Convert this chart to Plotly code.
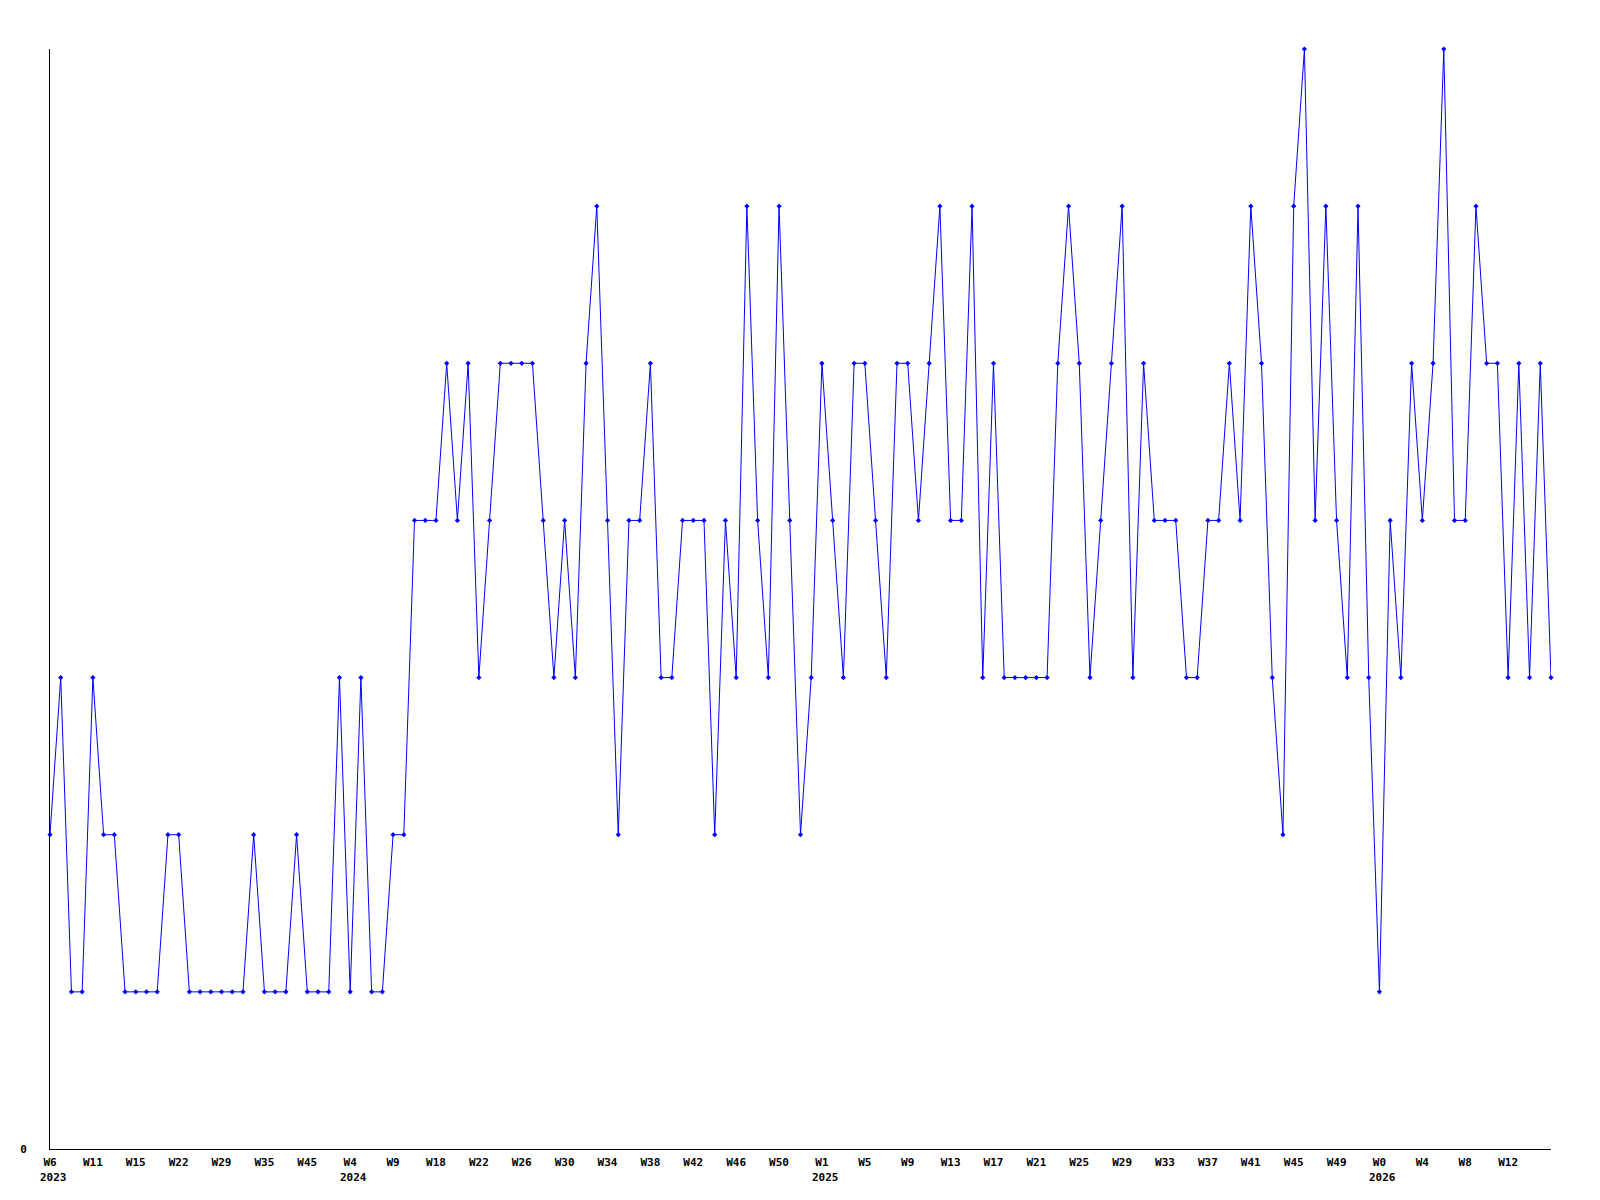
import plotly.graph_objects as go

values = [2, 3, 1, 1, 3, 2, 2, 1, 1, 1, 1, 2, 2, 1, 1, 1, 1, 1, 1, 2,
          1, 1, 1, 2, 1, 1, 1, 3, 1, 3, 1, 1, 2, 2, 4, 4, 4, 5, 4, 5,
          3, 4, 5, 5, 5, 5, 4, 3, 4, 3, 5, 6, 4, 2, 4, 4, 5, 3, 3, 4,
          4, 4, 2, 4, 3, 6, 4, 3, 6, 4, 2, 3, 5, 4, 3, 5, 5, 4, 3, 5,
          5, 4, 5, 6, 4, 4, 6, 3, 5, 3, 3, 3, 3, 3, 5, 6, 5, 3, 4, 5,
          6, 3, 5, 4, 4, 4, 3, 3, 4, 4, 5, 4, 6, 5, 3, 2, 6, 7, 4, 6,
          4, 3, 6, 3, 1, 4, 3, 5, 4, 5, 7, 4, 4, 6, 5, 5, 3, 5, 3, 5,
          3]

tick_labels = ["W6", "W11", "W15", "W22", "W29", "W35", "W45", "W4", "W9",
               "W18", "W22", "W26", "W30", "W34", "W38", "W42", "W46", "W50",
               "W1", "W5", "W9", "W13", "W17", "W21", "W25", "W29", "W33",
               "W37", "W41", "W45", "W49", "W0", "W4", "W8", "W12"]
tick_step = 4

year_labels = ["2023", "2024", "2025", "2026"]
year_tick_index = [0, 7, 18, 31]  # index into tick_labels

x = list(range(len(values)))
tickvals = [i * tick_step for i in range(len(tick_labels))]

font_family = "DejaVu Sans Mono"

fig = go.Figure()
fig.add_trace(go.Scatter(
    x=x, y=values, mode="lines+markers",
    line=dict(color="#0000FF", width=1),
    marker=dict(symbol="diamond", size=4, color="#0000FF"),
    cliponaxis=False, hoverinfo="skip", showlegend=False,
))

annotations = []
for lab, ti in zip(year_labels, year_tick_index):
    annotations.append(dict(
        x=tickvals[ti], y=0, xref="x", yref="y", text=lab, showarrow=False,
        xanchor="left", yanchor="top", xshift=-12, yshift=-20,
        font=dict(family=font_family, size=11, color="black", weight="bold"),
    ))

# page body has an 8px default margin; compensate so the plot area lands at
# the same place as in the reference
fig.update_layout(
    width=1592, height=1192,
    margin=dict(l=42, r=49, t=41, b=51, autoexpand=False),
    paper_bgcolor="white", plot_bgcolor="white",
    annotations=annotations,
    xaxis=dict(
        range=[0, len(values) - 1], tickmode="array", tickvals=tickvals,
        ticktext=tick_labels, showgrid=False, zeroline=False,
        showline=True, linecolor="black", linewidth=1,
        ticks="outside", ticklen=3, tickcolor="white",
        tickfont=dict(family=font_family, size=11, color="black", weight="bold"),
    ),
    yaxis=dict(
        range=[0, 7], tickmode="array", tickvals=[0], ticktext=["0"],
        showgrid=False, zeroline=False, showline=True, linecolor="black",
        linewidth=1, ticks="", ticklabelstandoff=20,
        tickfont=dict(family=font_family, size=11, color="black", weight="bold"),
    ),
)

fig.write_html("out.html")
